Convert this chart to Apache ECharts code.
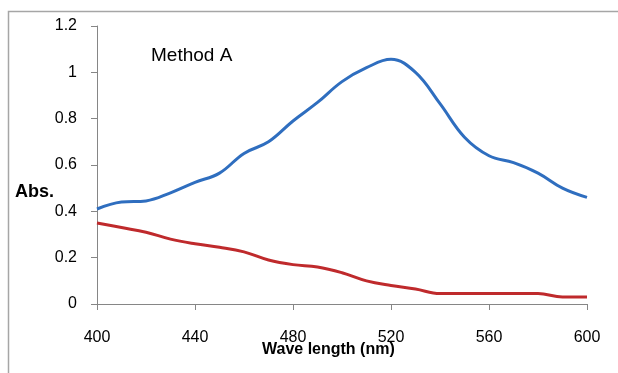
<!DOCTYPE html>
<html>
<head>
<meta charset="utf-8">
<script src="https://cdn.jsdelivr.net/npm/echarts@6/dist/echarts.min.js"></script>
<style>
  html, body { margin: 0; padding: 0; background: #fff; }
  #chart { width: 618px; height: 373px; }
</style>
</head>
<body>
<div id="chart"></div>
<script>
// wavelength (nm)
const wavelengths = [400, 410, 420, 430, 440, 450, 460, 470, 480, 490, 500,
  510, 520, 530, 540, 550, 560, 570, 580, 590, 600];
// absorbance, upper (blue) curve
const blueAbs = [0.41, 0.44, 0.445, 0.48, 0.525, 0.565, 0.65, 0.70, 0.79, 0.87, 0.96,
  1.02, 1.056, 1.0, 0.865, 0.72, 0.64, 0.61, 0.565, 0.50, 0.46];
// absorbance, lower (red) curve
const redAbs = [0.35, 0.33, 0.31, 0.28, 0.26, 0.245, 0.225, 0.19, 0.17, 0.16, 0.135,
  0.10, 0.08, 0.065, 0.045, 0.045, 0.045, 0.045, 0.045, 0.03, 0.03];

const font = '"Liberation Sans", Arial, sans-serif';
const pairs = ys => wavelengths.map((x, i) => [x, ys[i]]);

const chart = echarts.init(document.getElementById('chart'));
chart.setOption({
  animation: false,
  grid: { left: 97, right: 31, top: 26, bottom: 69 },
  xAxis: {
    type: 'value',
    min: 400, max: 600, interval: 40,
    axisLine: { lineStyle: { color: '#868686', width: 1 } },
    axisTick: { show: true, length: 6, lineStyle: { color: '#868686' } },
    axisLabel: { color: '#000', fontSize: 16, fontFamily: font, margin: 26 },
    splitLine: { show: false }
  },
  yAxis: {
    type: 'value',
    min: 0, max: 1.2, interval: 0.2,
    axisLine: { show: true, lineStyle: { color: '#868686', width: 1 } },
    axisTick: { show: true, length: 6, lineStyle: { color: '#868686' } },
    axisLabel: { color: '#000', fontSize: 16, fontFamily: font, margin: 20 },
    splitLine: { show: false }
  },
  series: [
    {
      type: 'line', data: pairs(blueAbs), smooth: 0.4, symbol: 'none',
      lineStyle: { color: '#2f6ebf', width: 3 }
    },
    {
      type: 'line', data: pairs(redAbs), smooth: 0.4, symbol: 'none',
      lineStyle: { color: '#bf2a2c', width: 3 }
    }
  ],
  graphic: [
    {
      type: 'rect', shape: { x: 8.5, y: 11.5, width: 640, height: 400 },
      style: { fill: 'none', stroke: '#a6a6a6', lineWidth: 1.5 }, silent: true
    },
    {
      type: 'text', left: 151, top: 46,
      style: { text: 'Method A', fontSize: 19, fontFamily: font, fill: '#000' }
    },
    {
      type: 'text', left: 15, top: 183,
      style: { text: 'Abs.', fontSize: 18, fontWeight: 'bold', fontFamily: font, fill: '#000' }
    },
    {
      type: 'text', left: 262, top: 342,
      style: { text: 'Wave length (nm)', fontSize: 16, fontWeight: 'bold', fontFamily: font, fill: '#000' }
    }
  ]
});
</script>
</body>
</html>
